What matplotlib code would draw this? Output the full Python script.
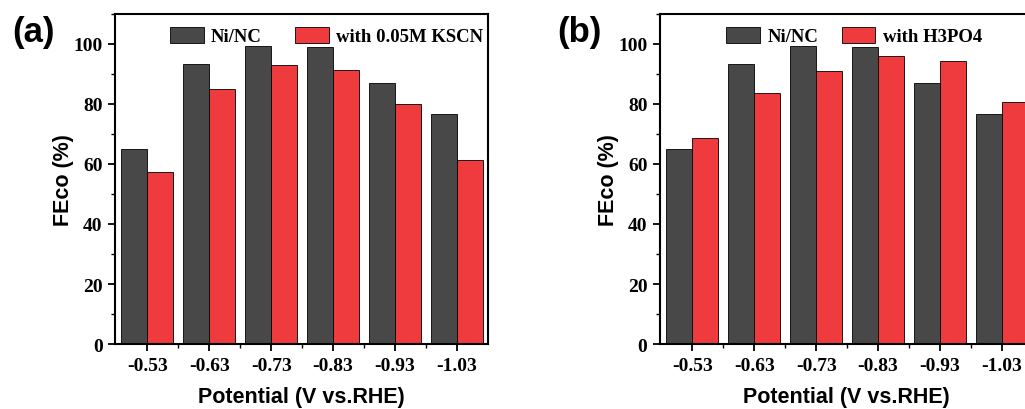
import numpy as np
import matplotlib
matplotlib.use("Agg")
import matplotlib.pyplot as plt
from matplotlib.ticker import MultipleLocator, FixedLocator

# ── Data
potentials = ["-0.53", "-0.63", "-0.73", "-0.83", "-0.93", "-1.03"]
ninc_fe = [64.9, 93.4, 99.2, 99.1, 87.1, 76.8]
kscn_fe = [57.3, 84.9, 92.9, 91.4, 79.9, 61.2]
h3po4_fe = [68.6, 83.7, 90.9, 96.1, 94.2, 80.6]

DARK = "#484848"
RED = "#ef3b3d"
serif_bold = dict(family="Liberation Serif", weight="bold")
sans_bold = dict(family="Liberation Sans", weight="bold")

fig = plt.figure(figsize=(10.25, 4.1), dpi=100)
ax_a = fig.add_axes([0.1122, 0.1585, 0.3639, 0.805])
ax_b = fig.add_axes([0.6439, 0.1585, 0.3639, 0.805])

# axes, second series, its label, panel letter, letter x, legend x, column gap
panels = [
    (ax_a, kscn_fe, "with 0.05M KSCN", "(a)", 0.0117, 0.147, 1.75),
    (ax_b, h3po4_fe, "with H3PO4", "(b)", 0.544, 0.177, 1.25),
]

x = np.arange(len(potentials))
w = 0.42
for ax, other, other_label, letter, letter_x, leg_x, colgap in panels:
    ax.bar(x - w / 2, ninc_fe, width=w, color=DARK, edgecolor="black",
           linewidth=0.6, label="Ni/NC")
    ax.bar(x + w / 2, other, width=w, color=RED, edgecolor="black",
           linewidth=0.6, label=other_label)
    ax.set_xlim(-0.52, 5.5)
    ax.set_ylim(0, 110)
    ax.set_xticks(x)
    ax.set_xticklabels(potentials, fontsize=14, **serif_bold)
    ax.xaxis.set_minor_locator(FixedLocator(x[:-1] + 0.5))
    ax.yaxis.set_major_locator(MultipleLocator(20))
    ax.yaxis.set_minor_locator(MultipleLocator(10))
    for lab in ax.get_yticklabels():
        lab.set_fontsize(14)
        lab.set_fontfamily("Liberation Serif")
        lab.set_fontweight("bold")
    ax.tick_params(which="major", direction="out", length=5, width=1.3, pad=4)
    ax.tick_params(which="minor", direction="out", length=3, width=1.0)
    for sp in ax.spines.values():
        sp.set_linewidth(1.5)
    ax.set_xlabel("Potential (V vs.RHE)", fontsize=15.5, va="center", **sans_bold)
    ax.set_ylabel("FEco (%)", fontsize=15.5, va="center", **sans_bold)
    ax.xaxis.set_label_coords(0.5, -0.158)
    ax.yaxis.set_label_coords(-0.137, 0.5)
    ax.legend(loc="upper left", bbox_to_anchor=(leg_x, 0.96), ncol=2,
              frameon=False, prop=dict(size=13.5, **serif_bold),
              handlelength=1.8, handleheight=0.9, columnspacing=colgap,
              handletextpad=0.4, borderpad=0, borderaxespad=0)
    fig.text(letter_x, 0.96, letter, fontsize=25, va="top", **sans_bold)

plt.savefig("out.png", dpi=100)
